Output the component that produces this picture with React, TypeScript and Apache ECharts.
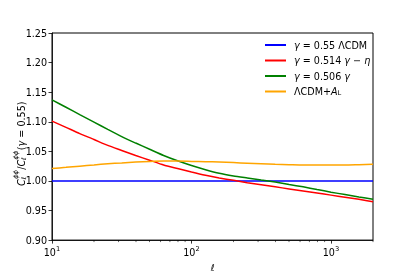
import React, { useEffect, useRef } from "react";
import * as echarts from "echarts";

const ell = [10, 12.6, 15.8, 20, 25.1, 31.6, 39.8, 50.1, 63.1, 79.4, 100, 126, 158, 200, 251, 316, 398, 501, 631, 794, 1000, 1259, 1585, 2000];
const lcdm = ell.map(() => 1);
const gammaEta = [1.101, 1.0905, 1.08, 1.07, 1.06, 1.0515, 1.043, 1.035, 1.027, 1.021, 1.015, 1.0095, 1.005, 1.001, 0.997, 0.9935, 0.99, 0.9865, 0.983, 0.9795, 0.976, 0.9725, 0.969, 0.965];
const gammaOnly = [1.137, 1.1245, 1.112, 1.0995, 1.087, 1.075, 1.064, 1.0535, 1.043, 1.034, 1.026, 1.019, 1.013, 1.0085, 1.005, 1.0015, 0.998, 0.994, 0.99, 0.9855, 0.981, 0.977, 0.973, 0.969];
const lensAL = [1.021, 1.023, 1.025, 1.027, 1.029, 1.0305, 1.032, 1.033, 1.0335, 1.0335, 1.033, 1.0325, 1.032, 1.031, 1.03, 1.029, 1.028, 1.0275, 1.027, 1.027, 1.027, 1.027, 1.0275, 1.028];
const minorTicks = [20, 30, 40, 50, 60, 70, 80, 90, 200, 300, 400, 500, 600, 700, 800, 900, 2000];
const seriesNames = ["s1", "s2", "s3", "s4"];
const seriesLabels = [
  "{i|γ} = 0.55 ΛCDM",
  "{i|γ} = 0.514 {i|γ} − {i|η}",
  "{i|γ} = 0.506 {i|γ}",
  "ΛCDM+{i|A}{sub|L}",
];
const seriesColors = ["#0000ff", "#ff0000", "#008000", "#ffa500"];
const seriesData = [lcdm, gammaEta, gammaOnly, lensAL];

const FONT = "DejaVu Sans";
const FS = 9.6;
const SFS = 6.7;

export default function App() {
  const ref = useRef<HTMLDivElement>(null);
  useEffect(() => {
    if (!ref.current) return;
    const chart = echarts.init(ref.current, null, { renderer: "svg" });
    const pairs = (ys: number[]) => ell.map((x, i) => [x, ys[i]]);

    const lineSeries = seriesNames.map((name, k) => ({
      name,
      type: "line",
      data: pairs(seriesData[k]),
      symbol: "none",
      smooth: 0.2,
      lineStyle: { color: seriesColors[k], width: 1.5 },
      itemStyle: { color: seriesColors[k] },
      z: 3 + k,
    }));

    const sup = { fontSize: SFS, fontFamily: FONT, verticalAlign: "top", lineHeight: 9, color: "#000" };

    const yl: any[] = [];
    const main = (t: string, x: number, italic = false) => ({
      type: "text",
      x,
      y: 0,
      style: { text: t, font: `${italic ? "italic " : ""}${FS}px '${FONT}'`, fill: "#000", verticalAlign: "middle", align: "left" },
    });
    const small = (t: string, x: number, y: number, italic = false) => ({
      type: "text",
      x,
      y,
      style: { text: t, font: `${italic ? "italic " : ""}${SFS}px '${FONT}'`, fill: "#000", verticalAlign: "middle", align: "left" },
    });
    const x0 = -42;
    yl.push(main("C", x0, true));
    yl.push(small("ϕϕ", x0 + 7.2, -5.5, true));
    yl.push(small("ℓ", x0 + 6.6, 3.2, true));
    yl.push(main("/", x0 + 16.2));
    yl.push(main("C", x0 + 19.4, true));
    yl.push(small("ϕϕ", x0 + 26.6, -5.5, true));
    yl.push(small("ℓ", x0 + 26.0, 3.2, true));
    yl.push(main("(", x0 + 35.8));
    yl.push(main("γ", x0 + 39.6, true));
    yl.push(main(" = 0.55)", x0 + 45.3));

    chart.setOption({
      animation: false,
      textStyle: { fontFamily: FONT },
      grid: { left: 52, right: 42, top: 33, bottom: 35, show: true, borderColor: "#000", borderWidth: 1 },
      legend: {
        data: seriesNames,
        orient: "vertical",
        left: 259,
        top: 35,
        align: "left",
        itemWidth: 21,
        itemHeight: 10,
        itemGap: 5.5,
        itemStyle: { opacity: 0 },
        formatter: (n: string) => seriesLabels[seriesNames.indexOf(n)],
        textStyle: {
          fontSize: FS,
          fontFamily: FONT,
          color: "#000",
          padding: [0, 0, 0, 3],
          rich: {
            i: { fontSize: FS, fontFamily: FONT, fontStyle: "italic", color: "#000" },
            sub: { fontSize: SFS, fontFamily: FONT, verticalAlign: "bottom", lineHeight: 6, color: "#000" },
          },
        },
      },
      xAxis: {
        type: "log",
        logBase: 10,
        min: 10,
        max: 2000,
        name: "ℓ",
        nameLocation: "middle",
        nameGap: 21,
        nameTextStyle: { fontSize: FS, fontStyle: "italic", fontFamily: FONT, color: "#000" },
        axisLine: { show: true, lineStyle: { color: "#000", width: 0.8 } },
        axisTick: { show: true, length: 3.5, lineStyle: { color: "#000", width: 0.8 } },
        splitLine: { show: false },
        minorTick: { show: false },
        axisLabel: {
          showMaxLabel: false,
          margin: 5,
          color: "#000",
          formatter: (v: number) => {
            const e = Math.log10(v);
            if (Math.abs(e - Math.round(e)) > 1e-6) return "";
            return `{b|10}{s|${Math.round(e)}}`;
          },
          rich: {
            b: { fontSize: FS, fontFamily: FONT, color: "#000", lineHeight: 12, verticalAlign: "bottom" },
            s: sup,
          },
        },
      },
      yAxis: {
        type: "value",
        min: 0.9,
        max: 1.25,
        interval: 0.05,
        axisLine: { show: true, lineStyle: { color: "#000", width: 0.8 } },
        axisTick: { show: true, length: 3.5, lineStyle: { color: "#000", width: 0.8 } },
        splitLine: { show: false },
        axisLabel: {
          fontSize: FS,
          fontFamily: FONT,
          color: "#000",
          margin: 5,
          formatter: (v: number) => v.toFixed(2),
        },
      },
      graphic: [
        {
          type: "group",
          x: 21,
          y: 144,
          rotation: Math.PI / 2,
          children: yl,
        },
      ],
      series: [
        ...lineSeries,
        {
          type: "custom",
          name: "minor",
          clip: false,
          silent: true,
          data: minorTicks.map((v) => [v, 0.9]),
          renderItem: (params: any, api: any) => {
            const p = api.coord([api.value(0), api.value(1)]);
            return {
              type: "line",
              shape: { x1: p[0], y1: p[1], x2: p[0], y2: p[1] + 2 },
              style: { stroke: "#000", lineWidth: 0.6 },
            };
          },
        },
      ],
    });
    return () => chart.dispose();
  }, []);
  return <div ref={ref} style={{ width: 415, height: 277, position: "fixed", left: 0, top: 0 }} />;
}
